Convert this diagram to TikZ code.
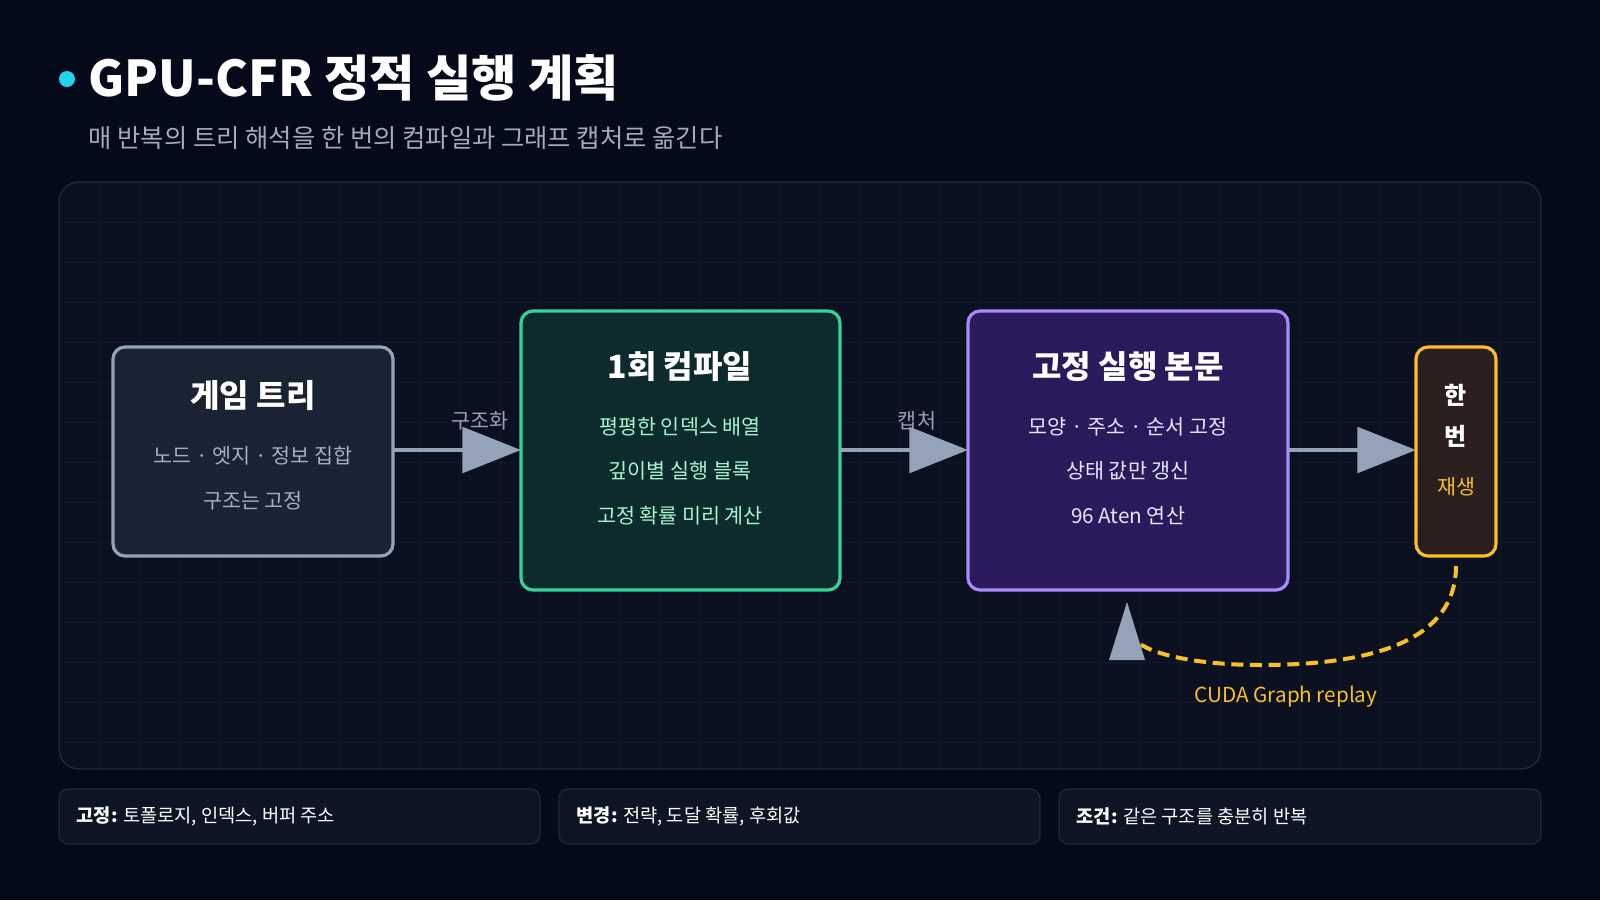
\documentclass[tikz,border=0pt]{standalone}
\usepackage{fontspec}
\setmainfont{Noto Sans CJK KR}
\usetikzlibrary{arrows.meta}
\definecolor{bg}{HTML}{050A1A}
\definecolor{panel}{HTML}{0A1020}
\definecolor{panelb}{HTML}{1F2937}
\definecolor{gridc}{HTML}{111A2A}
\definecolor{slate}{HTML}{94A3B8}
\definecolor{cyanb}{HTML}{22D3EE}
\definecolor{sub}{HTML}{A3ABB8}
\definecolor{gb}{HTML}{34D399}
\definecolor{gf}{HTML}{0D2B2C}
\definecolor{gt}{HTML}{A7F3D0}
\definecolor{pb}{HTML}{A78BFA}
\definecolor{pf}{HTML}{2A1A5C}
\definecolor{pt}{HTML}{E5E7FF}
\definecolor{yb}{HTML}{FBBF24}
\definecolor{yf}{HTML}{2A1E1E}
\definecolor{b1f}{HTML}{1A2333}
\definecolor{b1t}{HTML}{A7B0BE}
\definecolor{foot}{HTML}{0D1424}
\begin{document}
\begin{tikzpicture}[x=0.75pt,y=-0.75pt,
 box/.style={draw,rounded corners=9pt,line width=2.4pt},
 ttl/.style={font=\bfseries\fontsize{24}{28}\selectfont,text=white},
 ln/.style={font=\fontsize{15.5}{18}\selectfont},
 arr/.style={draw=slate,line width=3.5pt,-{Triangle[length=44pt,width=34pt]}},
 fb/.style={draw=panelb,fill=foot,rounded corners=7pt,line width=0.8pt},
 ft/.style={font=\fontsize{14}{17}\selectfont,text=white,anchor=west}]
\useasboundingbox (0,0) rectangle (1600,900);
\fill[bg] (0,0) rectangle (1600,900);
% title
\fill[cyanb] (67,79) circle (8);
\node[anchor=west,font=\bfseries\fontsize{37}{44}\selectfont,text=white] (title) at (84,78) {GPU-CFR 정적 실행 계획};
\node[anchor=west,font=\fontsize{19}{23}\selectfont,text=sub] (subt) at (84,138) {매 반복의 트리 해석을 한 번의 컴파일과 그래프 캡처로 옮긴다};
% panel
\fill[panel,rounded corners=15pt] (59,182) rectangle (1541,769);
\begin{scope}
\clip[rounded corners=15pt] (59,182) rectangle (1541,769);
\foreach \x in {100,140,...,1540} \draw[gridc,line width=0.5pt] (\x,182) -- (\x,769);
\foreach \y in {222,262,...,769} \draw[gridc,line width=0.5pt] (59,\y) -- (1541,\y);
\end{scope}
\draw[panelb,rounded corners=15pt,line width=1pt] (59,182) rectangle (1541,769);
% boxes
\draw[box,draw=slate,fill=b1f] (113,347) rectangle (393,556);
\node (b1) at (253,451.5) {};
\coordinate (b1e) at (393,450);
\node[ttl] (b1t) at (253,396) {게임 트리};
\node[ln,text=b1t] (b1a) at (253,456) {노드 · 엣지 · 정보 집합};
\node[ln,text=b1t] (b1b) at (253,501) {구조는 고정};
\draw[box,draw=gb,fill=gf] (521,311) rectangle (840,590);
\coordinate (b2w) at (521,450);\coordinate (b2e) at (840,450);
\node[ttl] (b2t) at (680,367) {1회 컴파일};
\node[ln,text=gt] (b2a) at (680,427) {평평한 인덱스 배열};
\node[ln,text=gt] (b2b) at (680,471) {깊이별 실행 블록};
\node[ln,text=gt] (b2c) at (680,516) {고정 확률 미리 계산};
\draw[box,draw=pb,fill=pf] (968,311) rectangle (1288,590);
\coordinate (b3w) at (968,450);\coordinate (b3e) at (1288,450);
\node[ttl] (b3t) at (1128,367) {고정 실행 본문};
\node[ln,text=pt] (b3a) at (1128,427) {모양 · 주소 · 순서 고정};
\node[ln,text=pt] (b3b) at (1128,471) {상태 값만 갱신};
\node[ln,text=pt] (b3c) at (1128,516) {96 Aten 연산};
\draw[box,draw=yb,fill=yf] (1416,347) rectangle (1496,556);
\coordinate (b4w) at (1416,450);\coordinate (b4s) at (1456,566);
\node[font=\bfseries\fontsize{18}{22}\selectfont,text=white] (b4a) at (1456,395) {한};
\node[font=\bfseries\fontsize{18}{22}\selectfont,text=white] (b4b) at (1456,436) {번};
\node[ln,text=yb] (b4c) at (1456,487) {재생};
% arrows
\draw[arr] (b1e) -- (b2w);
\draw[arr] (b2e) -- (b3w);
\draw[arr] (b3e) -- (b4w);
\node[ln,text=slate] (l1) at (480,421) {구조화};
\node[ln,text=slate] (l2) at (917,421) {캡처};
\coordinate (tipc) at (1127,602);
\draw[yb,line width=3pt,dash pattern=on 9pt off 5pt] (b4s) .. controls (1456,650) and (1350,665) .. (1260,665) .. controls (1200,665) and (1150,655) .. (1135,640);
\fill[slate] (tipc) -- (1109,660) -- (1145,660) -- cycle;
\node[ln,text=yb] (rep) at (1286,697) {CUDA Graph replay};
% footer
\draw[fb] (59,789) rectangle (540,844);
\node[ft] (f1) at (72,816.5) {\textbf{고정:} 토폴로지, 인덱스, 버퍼 주소};
\draw[fb] (559,789) rectangle (1040,844);
\node[ft] (f2) at (572,816.5) {\textbf{변경:} 전략, 도달 확률, 후회값};
\draw[fb] (1059,789) rectangle (1541,844);
\node[ft] (f3) at (1072,816.5) {\textbf{조건:} 같은 구조를 충분히 반복};
\end{tikzpicture}
\end{document}
